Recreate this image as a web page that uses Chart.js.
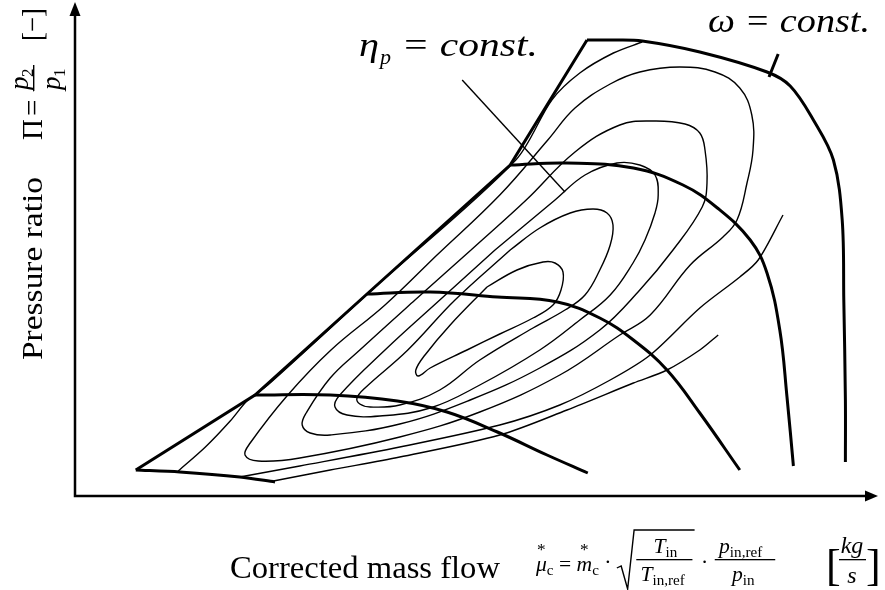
<!DOCTYPE html>
<html>
<head>
<meta charset="utf-8">
<script src="https://cdn.jsdelivr.net/npm/chart.js@4.4.0/dist/chart.umd.min.js"></script>
<style>
  html, body { margin: 0; padding: 0; background: #fff; }
  #wrap { width: 885px; height: 590px; }
</style>
</head>
<body>
<div id="wrap"><canvas id="map"></canvas></div>
<script>
// compressor map: corrected mass flow (x) vs pressure ratio (y), arbitrary units

// surge line
const surgeLine = [[7.6, 5.2], [22.5, 20.2], [36.5, 40.4], [54.4, 66.2], [64, 91.2]];

// speed lines, omega = const. (lowest to highest)
const speed1 = [[7.6, 5.2], [13.1, 4.8], [20.6, 3.8], [25, 2.8]];
const speed2 = [[22.5, 20.2], [31.9, 20.2], [40.3, 19], [46.5, 16.8], [52.8, 12.8], [59, 8.2], [64.1, 4.6]];
const speed3 = [[36.5, 40.4], [44.4, 40.8], [52.8, 39.8], [60.3, 38.8], [65.6, 35.6], [69.8, 31.2], [74, 25.2], [78.1, 16.6], [83.1, 5.2]];
const speed4 = [[54.4, 66.2], [61.5, 66.6], [69.8, 65.6], [76, 62.2], [80.3, 57.6], [84.4, 51.2], [86.5, 44.6], [88.1, 33.2], [89, 19.8], [89.8, 6]];
const speed5 = [[64, 91.2], [67.5, 91.2], [70.9, 91], [78.1, 88.8], [86.5, 84.8], [89.4, 82], [92.3, 75.2], [94.8, 67.2], [95.9, 55.2], [96.1, 39.2], [96.3, 19.2], [96.3, 6.8]];

// efficiency lines, eta_p = const.
const effOuter = [[12.9, 5], [16.3, 9.8], [19.4, 15], [21.6, 19.2], [24.1, 22.2], [37.1, 41.2], [55.1, 67.2], [59.6, 79.2], [63.1, 84.6], [67.3, 88.6], [70.9, 90.8]];
const effOpenA = [[20.6, 3.8], [28.1, 6], [40.6, 9.8], [53.1, 14.2], [60.6, 18.2], [66.9, 23.2], [71.9, 28.2], [78.1, 37.6], [83.1, 43.8], [85.4, 47.2], [88.5, 56.2]];
const effOpenB = [[24.8, 3], [31.9, 5.2], [40.6, 7.8], [53.1, 12.2], [61.5, 17.2], [69.8, 22.6], [74, 25.2], [78.1, 29.2], [80.4, 32.2]];
const island5 = [[45.25, 48.2], [53.1, 60.2], [59.1, 71.2], [62.5, 77.6], [66.9, 82.4], [70.6, 84.8], [75.6, 85.8], [80, 84.8], [83.1, 81.6], [84.6, 76.2], [84.75, 69.2], [84, 62.6], [82.75, 55.2], [81, 51.8], [76.9, 46.2], [71.9, 36.2], [68.1, 32.2], [60.6, 24.2], [50.6, 16.8], [40.6, 11.8], [28.1, 7.6], [22.9, 7], [21.25, 8.2], [21.9, 10.6], [26.6, 20.2], [32, 29.2], [38.75, 38.2], [45.25, 48.2]];
const island4 = [[49.5, 49.2], [56.4, 59.2], [62.5, 68.8], [68.1, 74.2], [72.25, 75], [76.25, 74.4], [78.1, 72.6], [78.75, 69.2], [79, 62.6], [78.4, 57.8], [74.75, 49.2], [70.6, 41.2], [65.6, 33.2], [58.1, 25.6], [49.4, 19.2], [40.6, 14.4], [31.9, 12.2], [29.4, 12.6], [28.4, 14.2], [28.9, 16.6], [31.9, 23.6], [35.6, 29.2], [42.5, 39.2], [49.5, 49.2]];
const island3 = [[52.5, 49.2], [60, 59.2], [63.75, 64.2], [67.75, 66.6], [70.6, 66.2], [72.5, 64.2], [72.9, 60.2], [72.5, 56.6], [71.25, 51.2], [69.75, 46.6], [66.9, 40.2], [63.1, 35.2], [58.1, 29.2], [50.6, 22.2], [44.4, 17.6], [38.1, 16], [34, 16.2], [32.5, 17.8], [33.1, 20.2], [38.75, 29.2], [45.6, 39.2], [52.5, 49.2]];
const island2 = [[54.4, 49.2], [58.1, 53.6], [61.9, 56.6], [64.75, 57.4], [66.5, 56.6], [67.25, 54.2], [66.9, 50.2], [65.6, 45.2], [63.75, 40.2], [61.25, 37.2], [57.25, 33.6], [50.6, 27.2], [45.6, 21.2], [40.6, 18.2], [36.9, 17.8], [35.6, 18.4], [35.25, 19.6], [36.25, 21.6], [41.6, 29.2], [47.5, 39.2], [54.4, 49.2]];
const island1 = [[51.5, 41.8], [55.25, 45.2], [58.5, 46.8], [60, 46.6], [61, 44.8], [60.75, 41.2], [59.75, 38.2], [57.25, 35.6], [53.1, 32.4], [49, 29.2], [44.4, 25.6], [42.9, 24], [42.6, 25.2], [43.75, 28.2], [46.9, 34.2], [51.5, 41.8]];

// leader lines for the two annotations
const omegaTick = [[86.75, 83.8], [87.9, 88.4]];
const etaLeader = [[48.4, 83.2], [61.25, 60.8]];

const pts = arr => arr.map(p => ({ x: p[0], y: p[1] }));

function thick(data, tension) {
    return { data: pts(data), borderColor: '#000', borderWidth: 3, tension: tension, pointRadius: 0, showLine: true, fill: false };
}
function thin(data, tension) {
    return { data: pts(data), borderColor: '#000', borderWidth: 1.4, tension: tension, pointRadius: 0, showLine: true, fill: false };
}

const serif = '"Liberation Serif", "DejaVu Serif", serif';

// small helpers for the math labels
function put(ctx, s, x, y, font, align) {
    ctx.font = font;
    ctx.textAlign = align || 'left';
    ctx.fillText(s, x, y);
    return ctx.measureText(s).width;
}
// text stretched horizontally to a given width
function fit(ctx, s, x, y, font, width) {
    ctx.font = font;
    ctx.textAlign = 'left';
    const k = width / ctx.measureText(s).width;
    ctx.save();
    ctx.translate(x, y);
    ctx.scale(k, 1);
    ctx.fillText(s, 0, 0);
    ctx.restore();
    return width;
}

// corrected mass flow definition, drawn from local x = 0
function massFlowFormula(ctx) {
    const f = 'italic 20px ' + serif;
    const fs = '14px ' + serif;
    const by = 571;
    let x = 0;
    let w = put(ctx, 'μ', x, by, f);
    put(ctx, '*', x + w / 2, by - 16, '16px ' + serif, 'center');
    x += w;
    x += put(ctx, 'c', x, by + 4, fs);
    x += put(ctx, ' = ', x, by, '20px ' + serif);
    w = put(ctx, 'm', x, by, f);
    put(ctx, '*', x + w / 2, by - 16, '16px ' + serif, 'center');
    x += w;
    x += put(ctx, 'c', x, by + 4, fs);
    x += put(ctx, ' · ', x, by - 2, '20px ' + serif);
    // square root over T_in / T_in,ref
    ctx.lineWidth = 1.3;
    ctx.beginPath();
    ctx.moveTo(x, 568);
    ctx.lineTo(x + 4, 566);
    ctx.lineTo(x + 10, 589);
    ctx.lineTo(x + 16, 530);
    ctx.lineTo(x + 72, 530);
    ctx.stroke();
    const cx1 = x + 44;
    ctx.fillRect(cx1 - 26, 559, 52, 1.3);
    put(ctx, 'T', cx1 - 10, 553, f);
    put(ctx, 'in', cx1 + 1, 557, fs);
    put(ctx, 'T', cx1 - 22, 581, f);
    put(ctx, 'in,ref', cx1 - 11, 585, fs);
    x += 76;
    x += put(ctx, '·', x + 2, by - 2, '20px ' + serif) + 8;
    const cx2 = x + 28;
    ctx.fillRect(cx2 - 28, 559, 56, 1.3);
    put(ctx, 'p', cx2 - 24, 553, f);
    put(ctx, 'in,ref', cx2 - 14, 557, fs);
    put(ctx, 'p', cx2 - 12, 581, f);
    put(ctx, 'in', cx2 - 2, 585, fs);
}

const decorations = {
    id: 'mapDecorations',
    afterDraw(chart) {
        const ctx = chart.ctx;
        const a = chart.chartArea;
        ctx.save();
        ctx.fillStyle = '#000';
        ctx.strokeStyle = '#000';
        ctx.textBaseline = 'alphabetic';

        // axes with arrow heads
        ctx.lineWidth = 2.5;
        ctx.beginPath();
        ctx.moveTo(a.left, a.top + 8);
        ctx.lineTo(a.left, a.bottom);
        ctx.lineTo(a.right - 6, a.bottom);
        ctx.stroke();
        ctx.beginPath();
        ctx.moveTo(a.left, a.top - 4);
        ctx.lineTo(a.left - 5.5, a.top + 10);
        ctx.lineTo(a.left + 5.5, a.top + 10);
        ctx.closePath();
        ctx.fill();
        ctx.beginPath();
        ctx.moveTo(a.right + 3, a.bottom);
        ctx.lineTo(a.right - 10, a.bottom - 5.5);
        ctx.lineTo(a.right - 10, a.bottom + 5.5);
        ctx.closePath();
        ctx.fill();

        // annotations
        const it = 'italic 33px ' + serif;
        fit(ctx, 'ω = const.', 708, 32, it, 162);

        let x = 359;
        x += fit(ctx, 'η', x, 56, it, 20);
        x += put(ctx, 'p', x + 1, 64, 'italic 22px ' + serif) + 1;
        fit(ctx, ' = const.', x, 56, it, 538 - x);

        // y axis title, rotated
        ctx.save();
        ctx.translate(42, 360);
        ctx.rotate(-Math.PI / 2);
        fit(ctx, 'Pressure ratio', 0, 0, '30px ' + serif, 183);
        put(ctx, 'Π', 220, 0, '29px ' + serif);
        put(ctx, '=', 244, 0, '29px ' + serif);
        const u = 270;
        put(ctx, 'p', u, -14, 'italic 27px ' + serif);
        put(ctx, '2', u + 13, -9, '17px ' + serif);
        put(ctx, 'p', u, 18, 'italic 27px ' + serif);
        put(ctx, '1', u + 13, 23, '17px ' + serif);
        ctx.fillRect(u - 1, -9, 26, 1.4);
        fit(ctx, '[−]', 319, 0, '29px ' + serif, 33);
        ctx.restore();

        // x axis title
        fit(ctx, 'Corrected mass flow', 230, 578, '31px ' + serif, 270);
        ctx.save();
        ctx.translate(536, 0);
        ctx.scale(1.08, 1);
        massFlowFormula(ctx);
        ctx.restore();

        // unit [kg/s]
        put(ctx, '[', 826, 580, '44px ' + serif);
        put(ctx, ']', 866, 580, '44px ' + serif);
        ctx.fillRect(839, 559, 27, 1.3);
        put(ctx, 'kg', 852, 553, 'italic 24px ' + serif, 'center');
        put(ctx, 's', 852, 583, 'italic 24px ' + serif, 'center');

        ctx.restore();
    }
};

const datasets = [
    thin(island1, 0.4), thin(island2, 0.4), thin(island3, 0.4), thin(island4, 0.4), thin(island5, 0.4),
    thin(effOuter, 0.3), thin(effOpenA, 0.3), thin(effOpenB, 0.3),
    thin(etaLeader, 0),
    thick(surgeLine, 0),
    thick(speed1, 0.3), thick(speed2, 0.4), thick(speed3, 0.4), thick(speed4, 0.4), thick(speed5, 0.35),
    thick(omegaTick, 0)
];

new Chart(document.getElementById('map'), {
    type: 'scatter',
    data: { datasets: datasets },
    options: {
        responsive: true,
        maintainAspectRatio: false,
        animation: false,
        layout: { padding: { left: 75, right: 10, top: 6, bottom: 94 } },
        scales: {
            x: { type: 'linear', min: 0, max: 100, display: false },
            y: { type: 'linear', min: 0, max: 98, display: false }
        },
        plugins: { legend: { display: false }, tooltip: { enabled: false } },
        elements: { line: { capBezierPoints: false } }
    },
    plugins: [decorations]
});
</script>
</body>
</html>
